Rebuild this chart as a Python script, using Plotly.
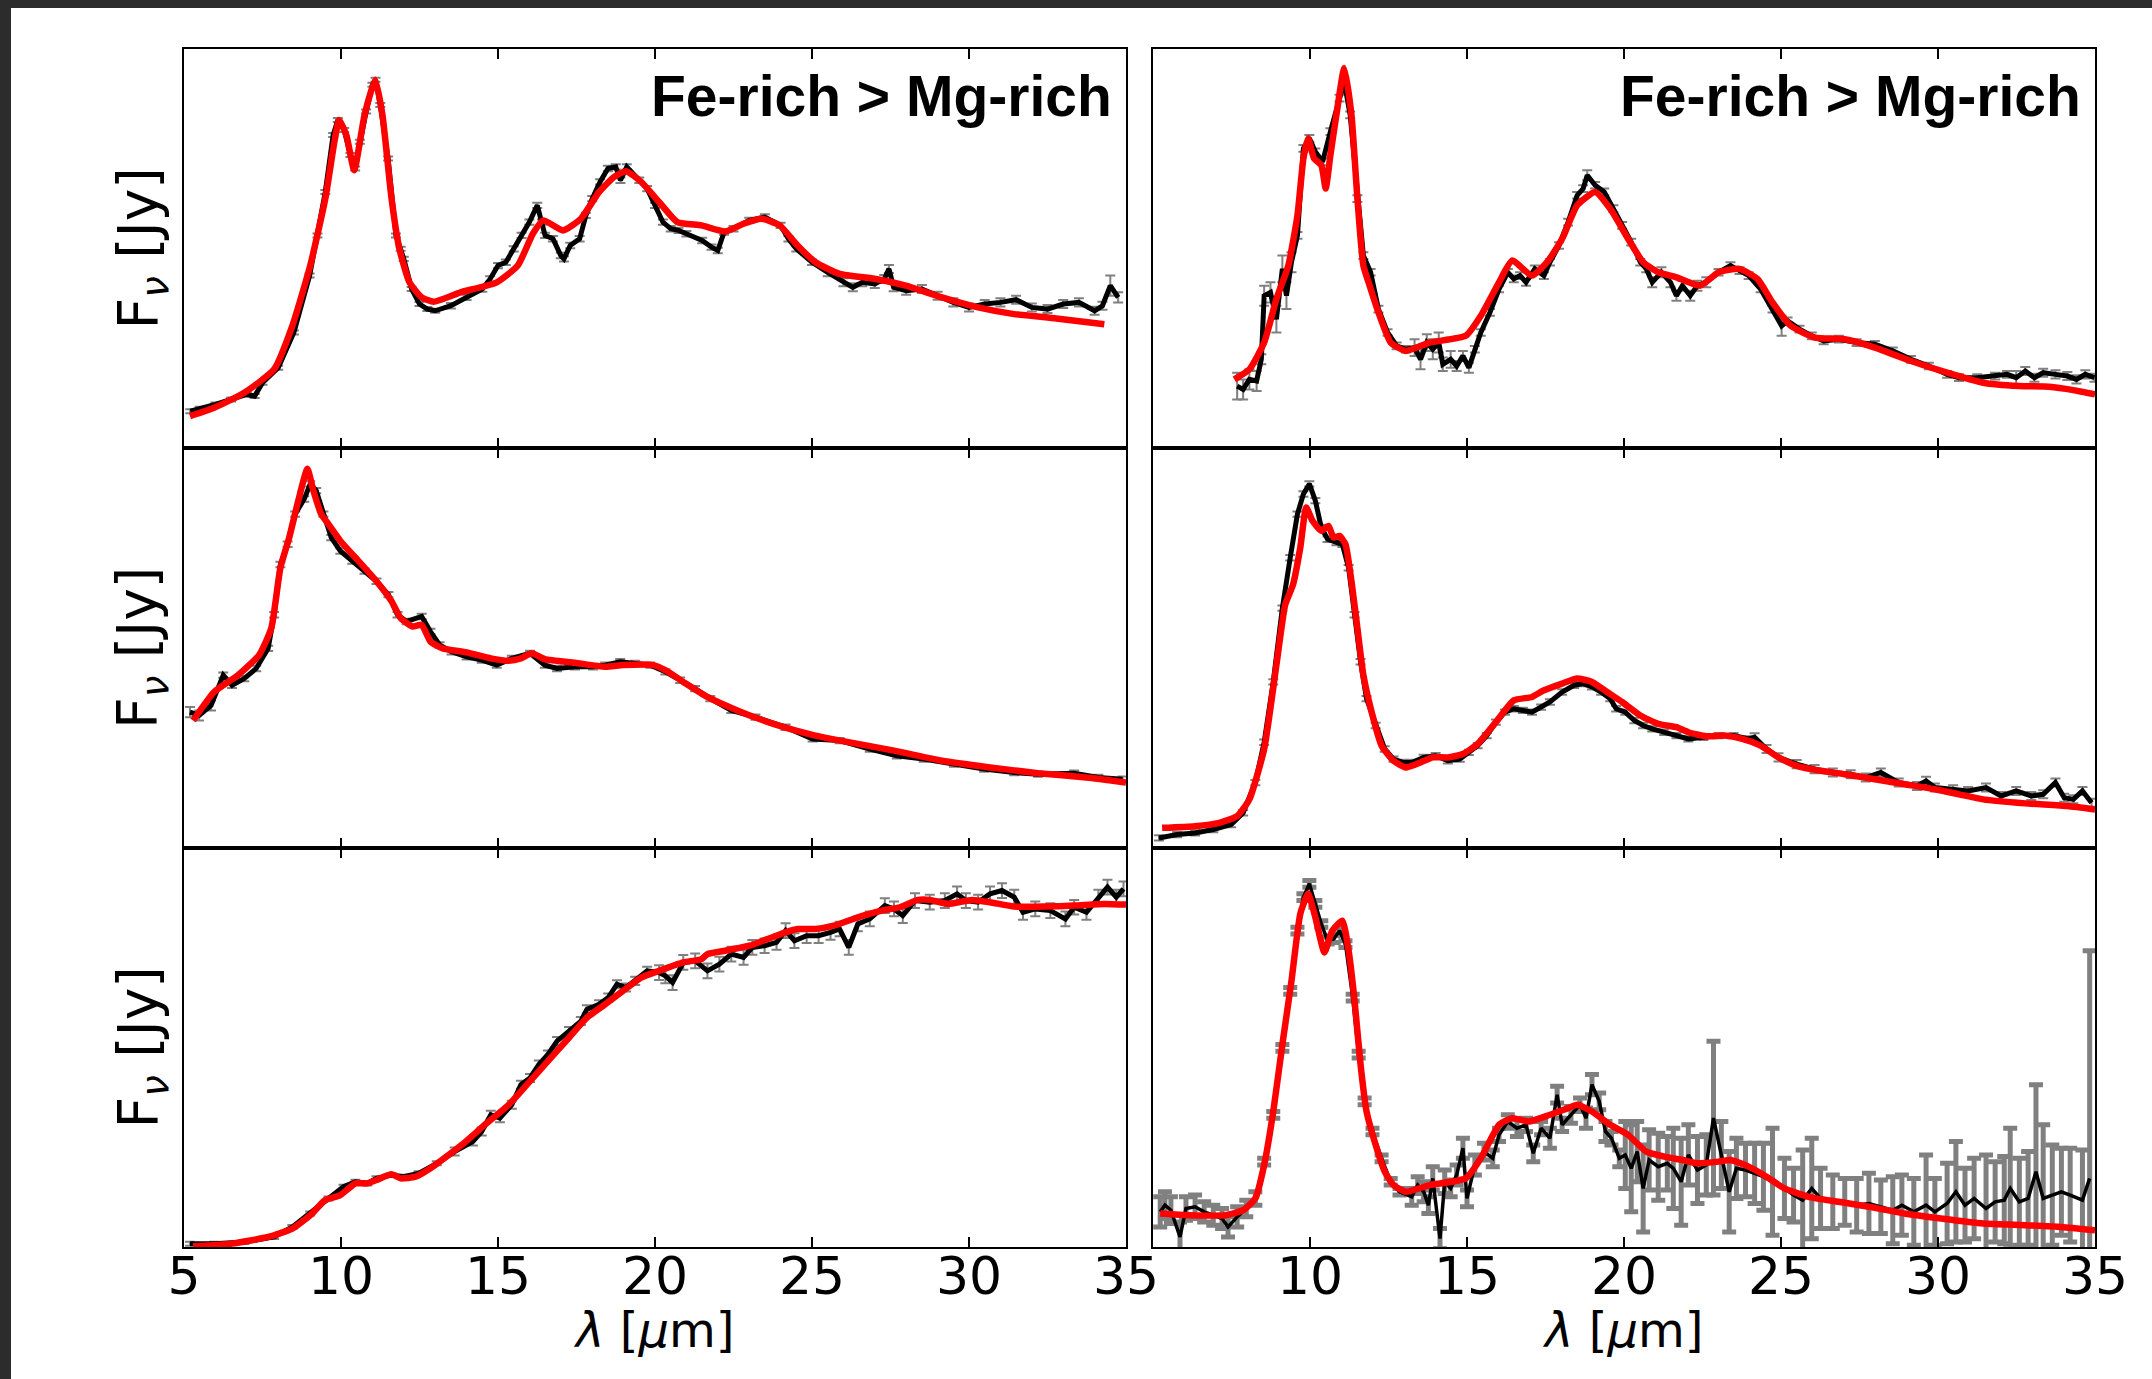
import plotly.graph_objects as go

# ---------------------------------------------------------------------------
# Observed spectra (wavelength in micron, flux density in Jy) with 1-sigma
# uncertainties, and best-fit dust models, for six sources (2 columns x 3 rows)
# ---------------------------------------------------------------------------

# Panel 1 (top left)
wl_obs_1 = [5.2, 5.5, 6.0, 6.5, 7.0, 7.25, 7.5, 8.0, 8.5, 9.0, 9.25, 9.5, 9.75, 9.9, 10.1, 10.3,
            10.45, 10.6, 10.8, 11.0, 11.1, 11.25, 11.5, 11.75, 11.9, 12.0, 12.25, 12.5, 12.75, 13.0,
            13.5, 14.0, 14.5, 14.75, 15.0, 15.25, 15.5, 15.75, 16.0, 16.25, 16.4, 16.5, 16.75, 17.0,
            17.1, 17.3, 17.6, 17.8, 18.0, 18.25, 18.5, 18.75, 18.9, 19.1, 19.5, 19.75, 20.0, 20.25,
            20.5, 20.75, 21.0, 21.5, 21.8, 22.0, 22.2, 22.5, 23.0, 23.5, 24.0, 24.25, 24.5, 25.0,
            25.5, 26.0, 26.3, 26.6, 27.0, 27.3, 27.45, 27.6, 28.0, 28.5, 29.0, 29.5, 30.0, 30.5,
            31.0, 31.5, 32.0, 32.5, 33.0, 33.5, 34.0, 34.25, 34.5, 34.75]
flux_obs_1 = [1.10, 1.17, 1.30, 1.45, 1.60, 1.55, 1.95, 2.40, 3.45, 5.15, 6.35, 7.65, 9.35, 9.80,
              9.50, 8.75, 8.35, 9.15, 10.05, 10.85, 11.00, 10.25, 8.65, 6.35, 5.95, 5.65, 4.75,
              4.30, 4.15, 4.10, 4.25, 4.50, 4.75, 5.05, 5.45, 5.55, 5.95, 6.35, 6.75, 7.25, 6.75,
              6.35, 6.25, 5.75, 5.65, 6.05, 6.25, 6.95, 7.45, 7.95, 8.35, 8.40, 8.00, 8.40, 8.00,
              7.75, 7.25, 6.75, 6.55, 6.50, 6.40, 6.20, 6.00, 5.90, 6.45, 6.55, 6.80, 6.90, 6.65,
              6.25, 5.95, 5.55, 5.25, 4.95, 4.80, 4.95, 4.90, 5.05, 5.35, 4.80, 4.70, 4.75, 4.55,
              4.35, 4.20, 4.30, 4.35, 4.43, 4.20, 4.15, 4.30, 4.35, 4.10, 4.25, 4.85, 4.50]
err_obs_1 = [0.06, 0.06, 0.06, 0.06, 0.06, 0.06, 0.06, 0.06, 0.06, 0.06, 0.06, 0.06, 0.06, 0.06,
             0.06, 0.06, 0.06, 0.06, 0.06, 0.06, 0.06, 0.06, 0.06, 0.06, 0.06, 0.06, 0.06, 0.06,
             0.06, 0.06, 0.08, 0.08, 0.08, 0.08, 0.08, 0.08, 0.08, 0.08, 0.08, 0.08, 0.08, 0.08,
             0.08, 0.08, 0.08, 0.08, 0.08, 0.08, 0.08, 0.08, 0.08, 0.08, 0.08, 0.08, 0.08, 0.08,
             0.08, 0.08, 0.08, 0.08, 0.08, 0.08, 0.08, 0.08, 0.08, 0.08, 0.08, 0.08, 0.08, 0.08,
             0.08, 0.08, 0.12, 0.12, 0.12, 0.12, 0.12, 0.12, 0.12, 0.12, 0.12, 0.12, 0.12, 0.12,
             0.12, 0.12, 0.12, 0.12, 0.12, 0.12, 0.12, 0.12, 0.12, 0.12, 0.30, 0.15]
wl_mod_1 = [5.19, 5.96, 6.92, 7.87, 8.45, 9.02, 9.50, 9.79, 9.94, 10.17, 10.42, 10.75, 11.09, 11.32,
            11.61, 11.86, 12.18, 12.57, 12.95, 13.81, 14.96, 15.63, 16.11, 16.44, 17.07, 17.64,
            18.22, 18.70, 19.08, 19.56, 20.13, 20.71, 21.48, 22.24, 22.82, 23.39, 23.97, 24.54,
            25.11, 25.88, 27.03, 27.99, 29.14, 30.29, 31.44, 32.78, 34.31]
flux_mod_1 = [0.95, 1.20, 1.65, 2.35, 3.65, 5.45, 7.45, 9.15, 9.80, 9.35, 8.30, 9.95, 11.00, 9.95,
              7.45, 5.95, 4.95, 4.50, 4.37, 4.65, 4.95, 5.45, 6.40, 6.80, 6.50, 6.85, 7.65, 8.10,
              8.27, 7.95, 7.35, 6.75, 6.65, 6.47, 6.70, 6.85, 6.65, 6.05, 5.55, 5.20, 5.05, 4.85,
              4.50, 4.20, 4.00, 3.87, 3.70]

# Panel 2 (top right)
wl_obs_2 = [7.68, 7.87, 8.07, 8.30, 8.45, 8.54, 8.74, 8.93, 9.12, 9.25, 9.41, 9.60, 9.79, 9.98,
            10.17, 10.40, 10.65, 10.94, 11.09, 11.28, 11.51, 11.70, 11.93, 12.18, 12.47, 12.76,
            13.05, 13.33, 13.52, 13.72, 13.91, 14.10, 14.23, 14.48, 14.67, 14.87, 15.06, 15.25,
            15.44, 15.73, 16.02, 16.30, 16.49, 16.69, 16.88, 17.16, 17.45, 17.64, 17.93, 18.22,
            18.51, 18.70, 18.83, 19.08, 19.37, 19.66, 19.94, 20.23, 20.52, 20.71, 20.90, 21.19,
            21.48, 21.67, 21.86, 22.11, 22.34, 22.62, 23.01, 23.39, 23.68, 23.97, 24.35, 24.73,
            25.02, 25.21, 25.59, 25.98, 26.36, 26.84, 27.41, 27.99, 28.56, 29.14, 29.71, 30.29,
            30.67, 31.25, 31.82, 32.20, 32.49, 32.78, 33.07, 33.35, 33.74, 34.12, 34.41, 34.69,
            34.98]
flux_obs_2 = [1.85, 1.75, 2.05, 2.00, 2.65, 4.55, 4.65, 3.85, 5.35, 4.55, 5.55, 6.35, 8.95, 9.25,
              8.85, 8.55, 9.45, 10.45, 10.95, 9.95, 7.45, 5.75, 5.25, 4.15, 3.45, 3.05, 2.95, 3.00,
              2.65, 3.15, 2.95, 3.15, 2.50, 2.65, 2.45, 2.75, 2.40, 2.95, 3.45, 4.05, 4.75, 5.25,
              5.05, 5.15, 4.95, 5.35, 5.15, 5.55, 6.05, 6.75, 7.55, 7.75, 8.15, 7.85, 7.65, 7.15,
              6.65, 6.15, 5.55, 5.35, 4.95, 5.25, 4.95, 4.55, 4.85, 4.55, 4.85, 4.95, 5.25, 5.45,
              5.30, 5.15, 4.75, 4.15, 3.65, 3.80, 3.55, 3.35, 3.20, 3.25, 3.15, 3.10, 2.90, 2.65,
              2.45, 2.20, 2.10, 2.10, 2.15, 2.20, 2.10, 2.30, 2.10, 2.25, 2.20, 2.15, 2.05, 2.20,
              2.10]
err_obs_2 = [0.40, 0.30, 0.30, 0.30, 0.15, 0.30, 0.30, 0.40, 0.40, 0.40, 0.30, 0.10, 0.10, 0.10,
             0.10, 0.10, 0.10, 0.10, 0.10, 0.10, 0.10, 0.10, 0.10, 0.10, 0.10, 0.10, 0.10, 0.25,
             0.30, 0.25, 0.30, 0.30, 0.20, 0.25, 0.15, 0.15, 0.15, 0.10, 0.10, 0.10, 0.10, 0.10,
             0.10, 0.10, 0.10, 0.10, 0.10, 0.10, 0.10, 0.10, 0.10, 0.10, 0.15, 0.10, 0.10, 0.10,
             0.10, 0.10, 0.10, 0.10, 0.15, 0.15, 0.15, 0.15, 0.15, 0.15, 0.15, 0.15, 0.10, 0.10,
             0.10, 0.10, 0.10, 0.10, 0.30, 0.10, 0.10, 0.10, 0.10, 0.10, 0.10, 0.10, 0.10, 0.10,
             0.10, 0.10, 0.10, 0.10, 0.10, 0.10, 0.20, 0.12, 0.12, 0.12, 0.12, 0.12, 0.12, 0.12,
             0.12]
wl_mod_2 = [7.59, 8.07, 8.54, 8.93, 9.31, 9.60, 9.79, 9.94, 10.13, 10.36, 10.50, 10.65, 10.84,
            11.09, 11.32, 11.51, 11.70, 11.90, 12.18, 12.57, 13.05, 13.81, 14.96, 15.44, 16.02,
            16.44, 17.07, 17.55, 18.03, 18.51, 19.08, 19.56, 20.13, 20.61, 21.09, 21.67, 22.43,
            23.01, 23.68, 24.25, 24.73, 25.31, 26.07, 27.03, 27.99, 29.14, 30.29, 31.44, 32.59,
            33.54, 34.31, 35.0]
flux_mod_2 = [2.05, 2.35, 3.15, 4.45, 5.45, 6.95, 8.65, 9.25, 8.65, 8.45, 7.75, 8.75, 9.95, 11.35,
              9.95, 7.45, 5.45, 4.85, 4.05, 3.15, 2.90, 3.15, 3.35, 3.95, 4.95, 5.60, 5.15, 5.55,
              6.25, 7.25, 7.65, 7.15, 6.25, 5.55, 5.25, 5.10, 4.85, 5.25, 5.35, 5.05, 4.35, 3.65,
              3.30, 3.25, 3.00, 2.60, 2.25, 1.95, 1.85, 1.83, 1.73, 1.60]

# Panel 3 (middle left)
wl_obs_3 = [5.19, 5.48, 5.86, 6.25, 6.53, 6.92, 7.30, 7.68, 7.87, 8.07, 8.30, 8.54, 8.83, 9.02,
            9.21, 9.44, 9.69, 9.98, 10.36, 10.75, 11.13, 11.51, 11.80, 12.09, 12.57, 12.85, 13.14,
            13.52, 14.00, 14.48, 14.96, 15.44, 16.02, 16.49, 16.88, 17.45, 18.03, 18.41, 18.89,
            19.37, 19.85, 20.33, 20.80, 21.28, 21.76, 22.43, 23.20, 24.16, 25.02, 25.88, 26.84,
            27.70, 28.56, 29.52, 30.48, 31.44, 32.20, 33.35, 34.12, 34.89]
flux_obs_3 = [4.05, 3.95, 4.25, 5.15, 4.85, 5.05, 5.35, 5.95, 6.95, 8.45, 9.05, 9.95, 10.40, 10.85,
              10.65, 9.95, 9.25, 8.85, 8.55, 8.25, 7.95, 7.55, 6.95, 6.75, 6.90, 6.45, 6.05, 5.85,
              5.70, 5.60, 5.45, 5.65, 5.80, 5.45, 5.35, 5.40, 5.40, 5.45, 5.55, 5.50, 5.45, 5.25,
              5.00, 4.75, 4.45, 4.10, 3.90, 3.60, 3.25, 3.20, 2.95, 2.75, 2.65, 2.50, 2.35, 2.25,
              2.20, 2.23, 2.10, 2.05]
err_obs_3 = [0.15, 0.15, 0.15, 0.08, 0.08, 0.08, 0.08, 0.08, 0.08, 0.08, 0.08, 0.08, 0.08, 0.08,
             0.08, 0.08, 0.08, 0.08, 0.08, 0.08, 0.08, 0.08, 0.08, 0.08, 0.08, 0.08, 0.08, 0.08,
             0.08, 0.08, 0.08, 0.08, 0.08, 0.08, 0.08, 0.08, 0.08, 0.08, 0.08, 0.08, 0.08, 0.08,
             0.08, 0.08, 0.08, 0.08, 0.08, 0.08, 0.08, 0.08, 0.08, 0.08, 0.08, 0.08, 0.08, 0.08,
             0.08, 0.08, 0.08, 0.08]
wl_mod_3 = [5.29, 5.96, 6.72, 7.39, 7.78, 8.07, 8.35, 8.64, 8.93, 9.12, 9.37, 9.60, 9.98, 10.56,
            11.13, 11.61, 11.90, 12.28, 12.57, 12.85, 13.24, 14.00, 14.77, 15.34, 15.73, 16.07,
            16.49, 17.45, 18.41, 18.98, 19.94, 20.33, 20.90, 21.67, 22.62, 23.77, 25.11, 26.07,
            27.61, 29.14, 30.67, 32.20, 33.74, 35.0]
flux_mod_3 = [3.80, 4.65, 5.15, 5.75, 6.55, 8.35, 9.25, 10.35, 11.30, 10.65, 9.95, 9.65, 9.15,
              8.55, 7.95, 7.35, 6.85, 6.60, 6.65, 6.15, 5.95, 5.83, 5.65, 5.58, 5.65, 5.80, 5.63,
              5.52, 5.40, 5.45, 5.45, 5.30, 4.95, 4.50, 4.10, 3.70, 3.35, 3.17, 2.90, 2.60, 2.40,
              2.23, 2.10, 1.95]

# Panel 4 (middle right)
wl_obs_4 = [5.19, 5.77, 6.34, 6.92, 7.49, 7.87, 8.26, 8.54, 8.83, 9.12, 9.37, 9.60, 9.79, 9.98,
            10.17, 10.36, 10.56, 10.84, 11.03, 11.23, 11.42, 11.61, 11.80, 12.09, 12.38, 12.66,
            12.95, 13.24, 13.62, 14.00, 14.39, 14.77, 15.06, 15.34, 15.63, 15.92, 16.21, 16.49,
            16.78, 17.07, 17.36, 17.64, 18.03, 18.41, 18.70, 18.98, 19.27, 19.56, 19.75, 20.04,
            20.33, 20.61, 20.90, 21.28, 21.67, 22.05, 22.53, 23.01, 23.49, 23.97, 24.16, 24.54,
            24.92, 25.50, 26.07, 26.65, 27.22, 27.70, 28.18, 28.75, 29.33, 29.62, 29.90, 30.48,
            30.96, 31.53, 32.01, 32.49, 32.97, 33.35, 33.74, 34.02, 34.31, 34.60, 34.89]
flux_obs_4 = [0.30, 0.40, 0.45, 0.55, 0.70, 1.05, 1.95, 3.15, 4.95, 7.15, 8.65, 9.95, 10.55, 10.85,
              10.35, 9.55, 9.20, 9.10, 9.05, 8.35, 6.95, 5.55, 4.45, 3.65, 2.95, 2.65, 2.55, 2.55,
              2.70, 2.75, 2.60, 2.65, 2.85, 3.05, 3.35, 3.75, 4.05, 4.15, 4.10, 4.05, 4.20, 4.35,
              4.65, 4.85, 4.90, 4.80, 4.65, 4.45, 4.15, 4.05, 3.80, 3.65, 3.55, 3.45, 3.35, 3.25,
              3.30, 3.35, 3.35, 3.25, 3.30, 2.95, 2.70, 2.50, 2.35, 2.25, 2.20, 2.10, 2.25, 1.95,
              1.85, 2.00, 1.80, 1.75, 1.70, 1.80, 1.55, 1.70, 1.55, 1.60, 1.95, 1.50, 1.45, 1.70,
              1.35]
err_obs_4 = [0.08, 0.08, 0.08, 0.08, 0.08, 0.08, 0.08, 0.08, 0.08, 0.08, 0.08, 0.08, 0.08, 0.08,
             0.08, 0.08, 0.08, 0.08, 0.08, 0.08, 0.08, 0.08, 0.08, 0.08, 0.08, 0.08, 0.08, 0.08,
             0.08, 0.08, 0.08, 0.08, 0.08, 0.08, 0.08, 0.08, 0.08, 0.08, 0.08, 0.08, 0.08, 0.08,
             0.08, 0.08, 0.08, 0.08, 0.08, 0.08, 0.08, 0.08, 0.08, 0.08, 0.08, 0.08, 0.08, 0.08,
             0.08, 0.08, 0.08, 0.08, 0.12, 0.12, 0.12, 0.12, 0.12, 0.12, 0.12, 0.12, 0.12, 0.12,
             0.12, 0.12, 0.12, 0.12, 0.12, 0.12, 0.12, 0.12, 0.12, 0.12, 0.12, 0.12, 0.12, 0.12,
             0.12]
wl_mod_4 = [5.29, 6.34, 7.11, 7.68, 8.07, 8.54, 8.93, 9.21, 9.46, 9.69, 9.88, 10.08, 10.36, 10.59,
            10.75, 10.94, 11.13, 11.32, 11.51, 11.70, 11.99, 12.28, 12.66, 13.05, 13.52, 13.91,
            14.39, 14.87, 15.34, 15.92, 16.49, 17.07, 17.45, 18.03, 18.51, 18.98, 19.46, 19.94,
            20.52, 21.09, 21.67, 22.05, 22.62, 23.20, 23.77, 24.35, 24.92, 25.50, 26.26, 27.03,
            27.99, 28.94, 29.90, 30.67, 31.44, 32.78, 34.12, 35.0]
flux_mod_4 = [0.60, 0.65, 0.75, 0.95, 1.45, 2.95, 5.45, 7.25, 7.85, 8.95, 10.15, 9.75, 9.45, 9.60,
              9.25, 9.30, 9.05, 7.95, 6.55, 5.15, 3.95, 3.05, 2.60, 2.40, 2.55, 2.70, 2.70, 2.80,
              3.10, 3.75, 4.40, 4.50, 4.70, 4.90, 5.05, 4.95, 4.65, 4.35, 3.95, 3.70, 3.60, 3.45,
              3.33, 3.35, 3.25, 3.05, 2.70, 2.45, 2.30, 2.20, 2.05, 1.90, 1.75, 1.60, 1.45, 1.33,
              1.25, 1.15]

# Panel 5 (bottom left)
wl_obs_5 = [5.19, 5.96, 6.92, 7.87, 8.45, 9.02, 9.60, 10.08, 10.46, 10.84, 11.13, 11.61, 11.99,
            12.47, 13.05, 13.62, 14.20, 14.48, 14.77, 15.06, 15.44, 15.73, 16.02, 16.30, 16.59,
            16.88, 17.26, 17.64, 17.83, 18.22, 18.51, 18.79, 19.08, 19.37, 19.75, 20.13, 20.33,
            20.56, 20.90, 21.28, 21.67, 22.05, 22.43, 22.82, 23.10, 23.49, 23.87, 24.16, 24.44,
            24.83, 25.21, 25.59, 25.88, 26.17, 26.46, 26.84, 27.32, 27.61, 27.89, 28.28, 28.75,
            29.23, 29.62, 29.90, 30.29, 30.67, 31.05, 31.44, 31.72, 32.11, 32.59, 33.07, 33.35,
            33.74, 34.12, 34.41, 34.69, 34.92]
flux_obs_5 = [0.10, 0.10, 0.15, 0.30, 0.60, 1.00, 1.45, 1.80, 1.95, 1.90, 2.05, 2.15, 2.10, 2.20,
              2.50, 2.85, 3.15, 3.45, 3.95, 3.85, 4.25, 4.85, 5.05, 5.45, 5.75, 6.15, 6.45, 6.75,
              7.10, 7.25, 7.45, 7.85, 7.75, 7.95, 8.25, 8.20, 8.10, 7.90, 8.50, 8.55, 8.25, 8.45,
              8.75, 8.65, 8.95, 9.00, 9.10, 9.45, 9.15, 9.30, 9.30, 9.40, 9.50, 8.95, 9.65, 9.80,
              10.20, 10.10, 9.90, 10.35, 10.30, 10.35, 10.55, 10.35, 10.30, 10.55, 10.65, 10.45,
              10.00, 10.10, 10.05, 9.80, 10.15, 10.00, 10.45, 10.75, 10.45, 10.70]
err_obs_5 = [0.06, 0.06, 0.06, 0.06, 0.06, 0.06, 0.06, 0.06, 0.06, 0.06, 0.06, 0.06, 0.06, 0.06,
             0.06, 0.12, 0.12, 0.12, 0.12, 0.12, 0.12, 0.12, 0.12, 0.12, 0.12, 0.12, 0.12, 0.12,
             0.12, 0.12, 0.12, 0.12, 0.12, 0.12, 0.12, 0.22, 0.22, 0.22, 0.22, 0.22, 0.22, 0.22,
             0.22, 0.22, 0.22, 0.22, 0.22, 0.22, 0.22, 0.22, 0.22, 0.22, 0.22, 0.22, 0.22, 0.22,
             0.22, 0.22, 0.22, 0.22, 0.22, 0.22, 0.22, 0.22, 0.22, 0.22, 0.22, 0.22, 0.22, 0.22,
             0.22, 0.22, 0.22, 0.22, 0.22, 0.22, 0.22, 0.22]
wl_mod_5 = [5.29, 6.53, 7.68, 8.45, 9.02, 9.50, 9.98, 10.46, 10.84, 11.13, 11.61, 11.90, 12.38,
            12.85, 13.43, 13.91, 14.58, 15.34, 15.92, 16.49, 17.26, 17.83, 18.41, 18.98, 19.56,
            20.13, 20.90, 21.48, 21.67, 22.24, 23.01, 23.58, 24.16, 24.54, 25.11, 25.69, 26.46,
            27.22, 27.80, 28.37, 28.75, 29.33, 30.10, 30.67, 31.44, 32.40, 33.35, 34.31, 35.0]
flux_mod_5 = [0.02, 0.10, 0.30, 0.55, 0.95, 1.40, 1.55, 1.90, 1.90, 2.00, 2.17, 2.05, 2.10, 2.35,
              2.75, 3.10, 3.65, 4.25, 4.85, 5.45, 6.25, 6.85, 7.25, 7.65, 8.05, 8.25, 8.50, 8.60,
              8.75, 8.85, 9.00, 9.20, 9.40, 9.50, 9.50, 9.60, 9.85, 10.05, 10.15, 10.37, 10.37,
              10.25, 10.37, 10.30, 10.17, 10.17, 10.20, 10.25, 10.23]

# Panel 6 (bottom right)
wl_obs_6 = [5.23, 5.38, 5.57, 5.86, 6.05, 6.34, 6.63, 6.92, 7.20, 7.39, 7.68, 7.97, 8.26, 8.54,
            8.83, 9.12, 9.37, 9.60, 9.79, 9.98, 10.17, 10.36, 10.56, 10.75, 10.94, 11.13, 11.36,
            11.55, 11.74, 11.99, 12.28, 12.57, 12.85, 13.24, 13.43, 13.62, 13.77, 13.91, 14.14,
            14.29, 14.48, 14.67, 14.87, 15.00, 15.25, 15.54, 15.82, 16.02, 16.30, 16.59, 16.88,
            17.11, 17.36, 17.64, 17.87, 18.03, 18.31, 18.60, 18.79, 18.98, 19.21, 19.41, 19.60,
            19.85, 20.04, 20.23, 20.42, 20.61, 20.80, 21.09, 21.38, 21.57, 21.82, 22.05, 22.34,
            22.62, 22.85, 23.10, 23.35, 23.58, 23.87, 24.16, 24.44, 24.73, 25.11, 25.40, 25.69,
            25.98, 26.26, 26.65, 27.03, 27.41, 27.80, 28.18, 28.56, 28.85, 29.23, 29.62, 29.90,
            30.29, 30.57, 30.86, 31.15, 31.53, 31.82, 32.11, 32.30, 32.59, 32.87, 33.12, 33.35,
            33.64, 33.93, 34.21, 34.60, 34.83]
flux_obs_6 = [1.05, 1.25, 1.10, 0.30, 1.15, 1.20, 1.05, 0.95, 0.85, 0.60, 0.90, 1.15, 1.45, 2.55,
              3.95, 5.95, 7.65, 9.45, 10.45, 10.85, 10.25, 9.65, 9.15, 9.20, 9.45, 9.05, 7.45,
              5.75, 4.35, 3.45, 2.65, 1.95, 1.65, 1.50, 1.85, 1.65, 1.25, 2.05, 0.25, 1.95, 1.75,
              2.15, 2.95, 1.45, 2.45, 2.85, 2.65, 3.35, 3.75, 3.55, 3.65, 2.80, 3.55, 3.25, 4.55,
              3.65, 3.95, 4.25, 3.85, 4.85, 4.35, 3.45, 3.25, 2.65, 2.75, 2.35, 2.85, 1.75, 2.60,
              2.40, 2.50, 2.35, 1.95, 2.75, 2.30, 2.45, 3.85, 2.75, 1.65, 2.35, 2.30, 2.20, 2.10,
              1.95, 1.75, 1.55, 1.40, 1.75, 1.45, 1.35, 1.35, 1.25, 1.30, 1.20, 1.10, 1.25, 1.05,
              1.25, 1.05, 1.30, 1.65, 1.25, 1.45, 1.15, 1.35, 1.40, 1.75, 1.35, 1.45, 2.25, 1.45,
              1.55, 1.65, 1.55, 1.40, 2.05]
err_obs_6 = [0.45, 0.40, 0.40, 0.45, 0.35, 0.35, 0.30, 0.30, 0.30, 0.30, 0.30, 0.25, 0.20,
             0.10, 0.10, 0.10, 0.10, 0.10, 0.10, 0.10, 0.10, 0.10, 0.10, 0.10, 0.10, 0.10, 0.10,
             0.10, 0.10, 0.10, 0.10, 0.10, 0.10,
             0.25, 0.25, 0.30, 0.25, 0.35, 0.30, 0.35, 0.25, 0.30, 0.30, 0.25, 0.30, 0.25, 0.25,
             0.20, 0.20, 0.25, 0.20, 0.25, 0.20, 0.30, 0.25, 0.20, 0.25, 0.20, 0.30, 0.30, 0.25,
             0.30, 0.20, 0.25,
             1.0, 1.3, 0.9, 1.3, 0.9, 1.0, 0.8, 1.2, 1.3, 0.9, 1.0, 0.9, 2.3, 1.0, 1.2, 0.9, 0.8,
             0.9, 1.0, 1.6, 0.9, 0.8, 1.5, 1.5, 0.9, 0.8, 0.7, 0.8, 0.9, 0.8, 1.0, 0.9, 1.0, 1.5,
             1.0, 1.2, 1.5, 1.1, 1.2, 1.6, 1.2, 1.3, 1.8, 1.3, 1.4, 2.6, 2.2, 1.5, 1.3, 1.4, 1.5,
             6.8]
wl_mod_6 = [5.23, 6.15, 7.30, 7.87, 8.26, 8.54, 8.83, 9.12, 9.41, 9.69, 9.94, 10.17, 10.46, 10.71,
            11.03, 11.23, 11.42, 11.61, 11.80, 12.09, 12.38, 12.66, 13.05, 13.81, 14.96, 15.44,
            16.02, 16.44, 16.97, 17.64, 18.22, 18.51, 18.98, 19.56, 20.13, 20.71, 21.28, 21.86,
            22.34, 23.01, 23.39, 23.97, 24.54, 25.11, 25.88, 26.84, 27.80, 28.94, 30.10, 31.44,
            32.78, 33.93, 35.0]
flux_mod_6 = [1.00, 0.95, 0.95, 1.10, 1.45, 2.45, 4.05, 6.05, 7.95, 9.95, 10.55, 9.85, 8.80, 9.45,
              9.75, 8.85, 7.35, 5.45, 4.05, 3.05, 2.25, 1.85, 1.65, 1.85, 2.05, 2.65, 3.65, 3.85,
              3.75, 3.95, 4.15, 4.25, 4.05, 3.65, 3.35, 2.85, 2.70, 2.60, 2.50, 2.55, 2.60, 2.40,
              2.10, 1.75, 1.50, 1.35, 1.20, 1.00, 0.85, 0.70, 0.65, 0.60, 0.50]

panels = [
    (wl_obs_1, flux_obs_1, err_obs_1, wl_mod_1, flux_mod_1),
    (wl_obs_2, flux_obs_2, err_obs_2, wl_mod_2, flux_mod_2),
    (wl_obs_3, flux_obs_3, err_obs_3, wl_mod_3, flux_mod_3),
    (wl_obs_4, flux_obs_4, err_obs_4, wl_mod_4, flux_mod_4),
    (wl_obs_5, flux_obs_5, err_obs_5, wl_mod_5, flux_mod_5),
    (wl_obs_6, flux_obs_6, err_obs_6, wl_mod_6, flux_mod_6),
]

x_ticks = [5, 10, 15, 20, 25, 30, 35]
x_range = [5, 35]
flux_range = [0, 11.92]
panel_label = "Fe-rich > Mg-rich"

# ---------------------------------------------------------------------------
W, H = 2152, 1379
col_dom = [[184 / W, 1126 / W], [1153 / W, 2095 / W]]
row_px = [(49, 448), (448, 848), (848, 1247)]          # top/bottom of each row, px
row_dom = [[1 - b / H, 1 - t / H] for t, b in row_px]

TICK_FONT = dict(family="DejaVu Sans", size=52, color="black")

fig = go.Figure()
layout = dict(
    width=W, height=H,
    margin=dict(l=0, r=0, t=0, b=0, autoexpand=False),
    paper_bgcolor="white", plot_bgcolor="white",
    showlegend=False,
)

for i, (wo, fo, eo, wm, fm) in enumerate(panels):
    row, col = divmod(i, 2)
    n = i + 1
    xa = "x" if n == 1 else f"x{n}"
    ya = "y" if n == 1 else f"y{n}"
    noisy = (n == 6)

    # uncertainties (drawn underneath the spectrum)
    fig.add_trace(go.Scatter(
        x=wo, y=fo, mode="markers", marker=dict(opacity=0, size=2),
        error_y=dict(type="data", array=eo, visible=True, color="#808080",
                     thickness=5 if noisy else 2, width=7 if noisy else 5),
        xaxis=xa, yaxis=ya, hoverinfo="skip"))
    # observed spectrum
    fig.add_trace(go.Scatter(
        x=wo, y=fo, mode="lines",
        line=dict(color="black", width=3.5 if noisy else 5),
        xaxis=xa, yaxis=ya))
    # model fit
    fig.add_trace(go.Scatter(
        x=wm, y=fm, mode="lines",
        line=dict(color="#ff0000", width=6.5, shape="spline", smoothing=0.5),
        xaxis=xa, yaxis=ya))

    bottom = (row == 2)
    tickvals = x_ticks if col == 0 else x_ticks[1:]
    layout["xaxis" if n == 1 else f"xaxis{n}"] = dict(
        domain=col_dom[col], anchor=ya, range=x_range,
        tickvals=tickvals, ticks="inside", ticklen=10, tickwidth=1.5, tickcolor="black",
        showticklabels=bottom, tickfont=TICK_FONT, ticklabelstandoff=-17,
        showline=True, linecolor="black", linewidth=2, mirror="ticks",
        showgrid=False, zeroline=False, fixedrange=True)
    layout["yaxis" if n == 1 else f"yaxis{n}"] = dict(
        domain=row_dom[row], anchor=xa, range=flux_range,
        showticklabels=False, ticks="",
        showline=True, linecolor="black", linewidth=2, mirror=True,
        showgrid=False, zeroline=False, fixedrange=True)

annotations = []
# panel labels
for xr in (1114 / W, 2083 / W):
    annotations.append(dict(
        text=f"<b>{panel_label}</b>", xref="paper", yref="paper",
        x=xr, y=1 - 96 / H, xanchor="right", yanchor="middle", showarrow=False,
        font=dict(family="Liberation Sans", size=57, color="black")))
# y-axis titles
for t, b in row_px:
    annotations.append(dict(
        text="F<sub><i>ν</i></sub> [Jy]", xref="paper", yref="paper",
        x=141 / W, y=1 - (t + b) / 2 / H, xanchor="center", yanchor="middle",
        textangle=-90, showarrow=False,
        font=dict(family="DejaVu Sans", size=55, color="black")))
# x-axis titles
for cx in (653 / W, 1622 / W):
    annotations.append(dict(
        text="<i>λ</i> [<i>μ</i>m]", xref="paper", yref="paper",
        x=cx, y=1 - 1330 / H, xanchor="center", yanchor="middle", showarrow=False,
        font=dict(family="DejaVu Sans", size=48, color="black")))
layout["annotations"] = annotations

# dark slide border along the top and left edges
layout["shapes"] = [
    dict(type="rect", xref="paper", yref="paper", x0=0, x1=1, y0=1 - 8 / H, y1=1,
         fillcolor="#2c2c2c", line=dict(width=0), layer="above"),
    dict(type="rect", xref="paper", yref="paper", x0=0, x1=11 / W, y0=0, y1=1,
         fillcolor="#2c2c2c", line=dict(width=0), layer="above"),
]

fig.update_layout(**layout)
fig.write_html(
    "out.html",
    post_script="document.documentElement.style.margin='0';"
                "document.body.style.margin='0';"
                "document.body.style.overflow='hidden';",
)
